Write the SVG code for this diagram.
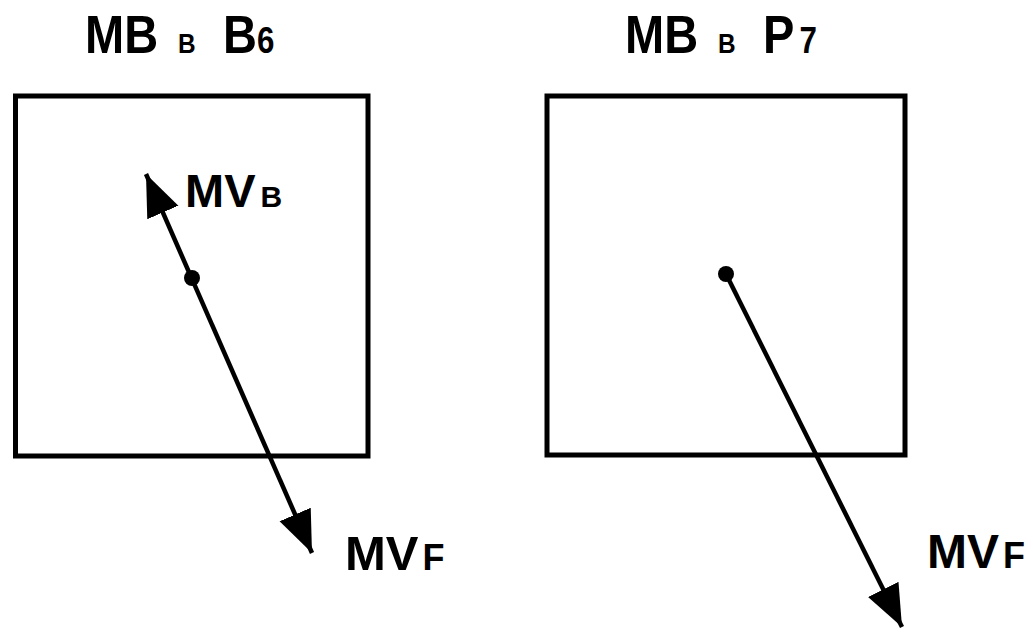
<svg xmlns="http://www.w3.org/2000/svg" width="1033" height="634" viewBox="0 0 1033 634">
<style>
.t{font-family:"Liberation Sans",Arial,sans-serif;font-weight:bold;fill:#000}
.box{fill:none;stroke:#000;stroke-width:5}
.ln{stroke:#000;stroke-width:4.5;fill:none}
</style>
<defs>
<marker id="ah" markerUnits="userSpaceOnUse" markerWidth="44" markerHeight="36" refX="42" refY="17" orient="auto-start-reverse" viewBox="0 0 44 36">
<path d="M0,0 L42,17 L0,34 Z" fill="#000"/>
</marker>
</defs>
<rect width="1033" height="634" fill="#fff"/>
<g id="title-left">
<text class="t" transform="translate(85,53) scale(0.87,1)"><tspan x="0" font-size="54">MB</tspan><tspan x="107" font-size="28">B</tspan><tspan x="158.6" font-size="54">B</tspan><tspan font-size="36">6</tspan></text>
</g>
<g id="title-right">
<text class="t" transform="translate(625,53) scale(0.87,1)"><tspan x="0" font-size="54">MB</tspan><tspan x="107" font-size="28">B</tspan><tspan x="158.6" font-size="54">P</tspan><tspan font-size="36" dx="6">7</tspan></text>
</g>
<g id="box-left"><rect class="box" x="15.5" y="96" width="352.5" height="360"/></g>
<g id="box-right"><rect class="box" x="547" y="96" width="358" height="359"/></g>
<g id="connectors">
<line class="ln" x1="146" y1="174" x2="312" y2="553" marker-start="url(#ah)" marker-end="url(#ah)"/>
<line class="ln" x1="726" y1="274" x2="902" y2="627" marker-end="url(#ah)"/>
</g>
<g id="dot-left"><circle cx="192" cy="278" r="8" fill="#000"/></g>
<g id="dot-right"><circle cx="726" cy="274" r="8" fill="#000"/></g>
<g id="label-mvb">
<text class="t" x="185" y="207"><tspan font-size="47">MV</tspan><tspan font-size="30" dx="5">B</tspan></text>
</g>
<g id="label-mvf-left">
<text class="t" x="345" y="570"><tspan font-size="49">MV</tspan><tspan font-size="36" dx="4">F</tspan></text>
</g>
<g id="label-mvf-right">
<text class="t" x="927" y="568"><tspan font-size="48">MV</tspan><tspan font-size="36" dx="4">F</tspan></text>
</g>
</svg>
